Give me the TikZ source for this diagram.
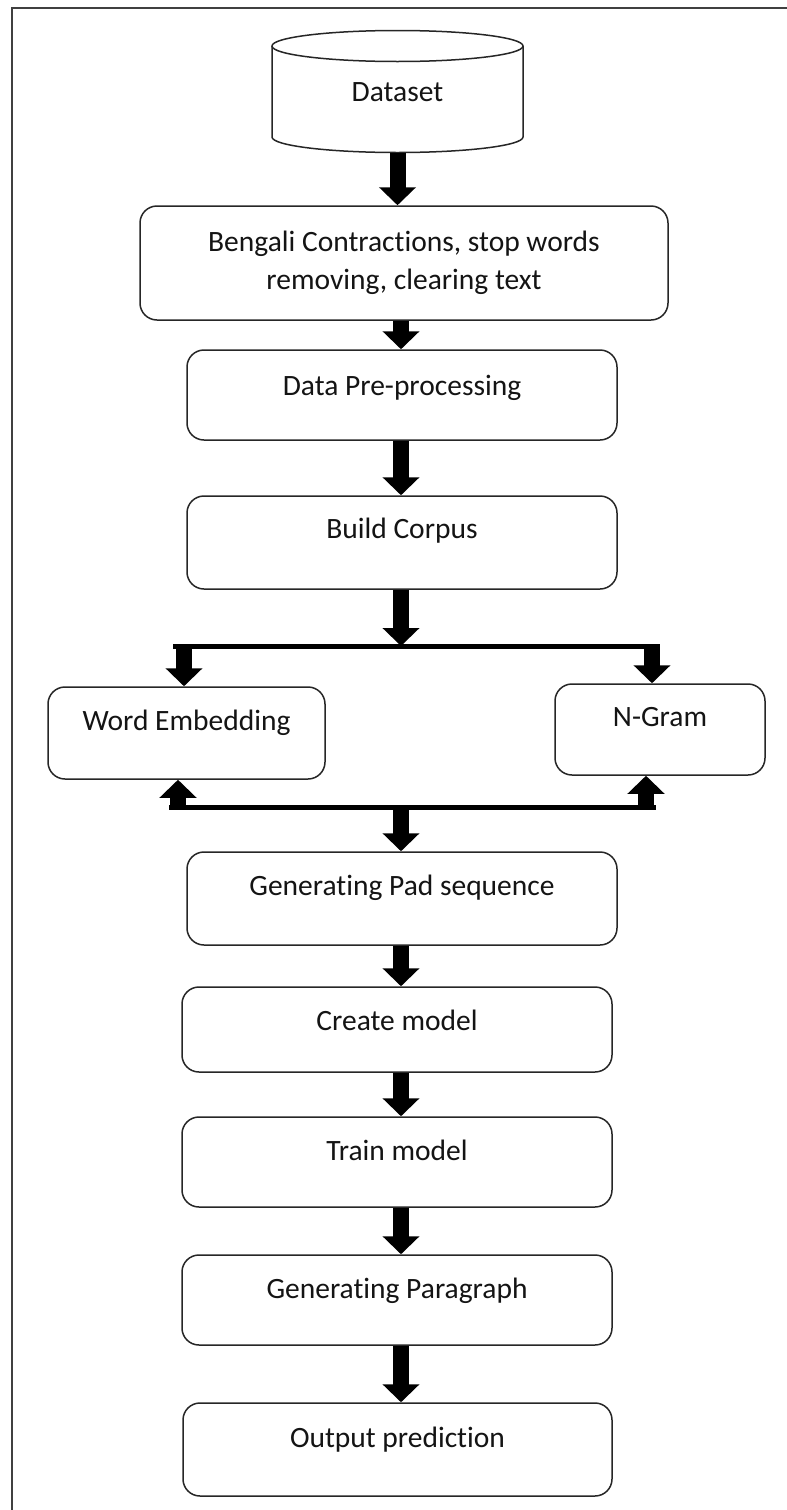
\documentclass[tikz,border=0pt]{standalone}
\usepackage{fontspec}
\setmainfont{Carlito}[RawFeature={-liga;-clig;-dlig;-calt}]
\usetikzlibrary{arrows.meta,calc}
\definecolor{boxc}{HTML}{262626}
\definecolor{framec}{HTML}{404040}
\definecolor{txtc}{HTML}{141414}
\newcommand\mybox[5]{\node[box, minimum width={(#4)-(#2)}, minimum height={(#5)-(#3)}] (#1) at ({((#2)+(#4))/2},{((#3)+(#5))/2}) {};}
\begin{document}
\begin{tikzpicture}[x=1pt,y=-1pt,
  box/.style={draw=boxc, line width=1.5pt, rounded corners=17pt, inner sep=0pt, fill=white},
  lbl/.style={font=\fontsize{29.5}{37}\selectfont, text=txtc, inner sep=0pt, text height=19pt, text depth=0pt, anchor=center},
  blk/.style={line width=16pt, black, -{Triangle[width=36pt,length=18pt]}},
  bar/.style={line width=5pt, black}]
\useasboundingbox (0,0) rectangle (787,1510);
% frame
\draw[framec, line width=2.5pt] (12,1510) -- (12,8) -- (787,8);
% cylinder
\node[inner sep=0pt, minimum width=251pt, minimum height=122pt] (ds) at (397.5,91.5) {};
\draw[draw=boxc, line width=1.5pt, fill=white] (272,46) -- (272,137) arc[start angle=180, end angle=0, x radius=125.5, y radius=15.5] -- (523,46);
\draw[draw=boxc, line width=1.5pt] (397.5,46) ellipse [x radius=125.5, y radius=15.5];
\node[lbl] (tds) at (ds.center) {Dataset};
% boxes
\mybox{bc}{140}{206}{668}{320}
\mybox{b2}{187}{350}{617}{440}
\mybox{b3}{187}{496}{617}{589}
\mybox{we}{48}{687}{325}{779}
\mybox{ng}{555}{684}{765}{775}
\mybox{b6}{187}{852}{617}{945}
\mybox{b7}{182}{987}{612}{1072}
\mybox{b8}{182}{1117}{612}{1207}
\mybox{b9}{182}{1255}{612}{1345}
\mybox{b10}{183}{1403}{612}{1496}
% texts
\node[font=\fontsize{29.5}{38}\selectfont, text=txtc, inner sep=0pt, align=center] (tbc) at (bc.center) {Bengali Contractions, stop words\\removing, clearing text};
\node[lbl] (t2) at ($(b2.north)+(0,37)$) {Data Pre-processing};
\node[lbl] (t3) at ($(b3.north)+(0,34)$) {Build Corpus};
\node[lbl] (twe) at ($(we.north)+(0,35)$) {Word Embedding};
\node[lbl] (tng) at ($(ng.north)+(0,34)$) {N-Gram};
\node[lbl] (t6) at ($(b6.north)+(0,35)$) {Generating Pad sequence};
\node[lbl] (t7) at ($(b7.north)+(0,35)$) {Create model};
\node[lbl] (t8) at ($(b8.north)+(0,35)$) {Train model};
\node[lbl] (t9) at ($(b9.north)+(0,35)$) {Generating Paragraph};
\node[lbl] (t10) at ($(b10.north)+(0,36)$) {Output prediction};
% helper coordinates
\coordinate (ax) at (401,0);
\coordinate (bl1) at (173,646);
\coordinate (br1) at (660,646);
\coordinate (dl) at (184,646);
\coordinate (dr) at (652,646);
\coordinate (bl2) at (169,807);
\coordinate (br2) at (656,807);
\coordinate (ul) at (178,807);
\coordinate (ur) at (646,807);
% bars
\draw[bar] (bl1) -- (br1);
\draw[bar] (bl2) -- (br2);
% arrows
\draw[blk] (ds.south) -- (ds.south |- bc.north);
\draw[blk] (bc.south -| ax) -- (b2.north -| ax);
\draw[blk] (b2.south -| ax) -- (b3.north -| ax);
\draw[blk] (b3.south -| ax) -- (bl1 -| ax);
\draw[blk] (dl) -- (dl |- we.north);
\draw[blk] (dr) -- (dr |- ng.north);
\draw[blk] (ul) -- (ul |- we.south);
\draw[blk] (ur) -- (ur |- ng.south);
\draw[blk] (bl2 -| ax) -- (b6.north -| ax);
\draw[blk] (b6.south -| ax) -- (b7.north -| ax);
\draw[blk] (b7.south -| ax) -- (b8.north -| ax);
\draw[blk] (b8.south -| ax) -- (b9.north -| ax);
\draw[blk] (b9.south -| ax) -- (b10.north -| ax);
\end{tikzpicture}
\end{document}
